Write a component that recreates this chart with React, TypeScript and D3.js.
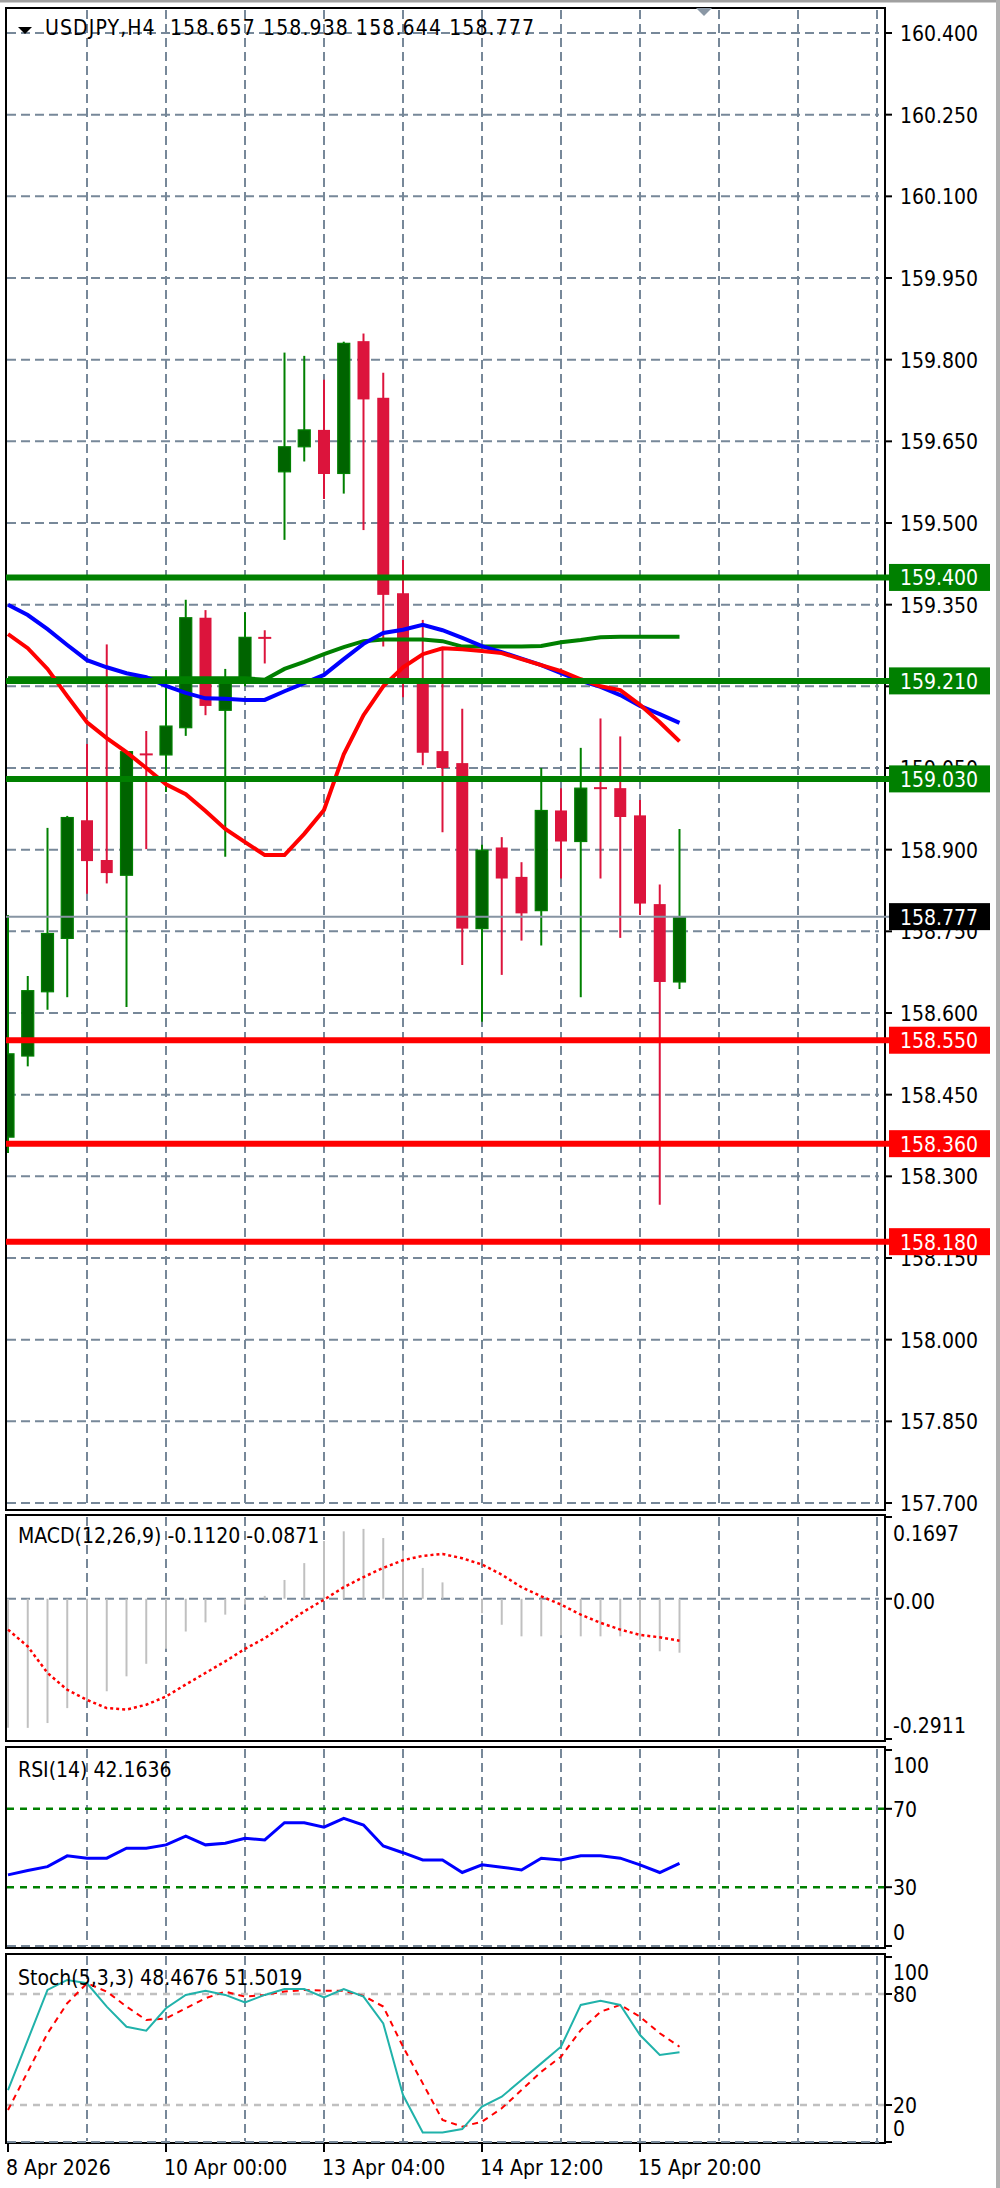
import React from 'react';
import * as d3 from 'd3';

// ---------------- data ----------------
const symbolName = 'USDJPY,H4';
const opens = [158.372, 158.521, 158.639, 158.737, 158.954, 158.881, 158.853, 159.075, 159.074, 159.124, 159.326, 159.156, 159.212, 159.289, 159.594, 159.640, 159.671, 159.591, 159.834, 159.730, 159.371, 159.205, 159.081, 159.059, 158.755, 158.904, 158.850, 158.788, 158.972, 158.915, 159.013, 159.013, 158.963, 158.800, 158.657];
const highs = [158.780, 158.668, 158.940, 158.962, 159.094, 159.277, 159.080, 159.118, 159.230, 159.359, 159.340, 159.232, 159.336, 159.303, 159.813, 159.807, 159.763, 159.833, 159.848, 159.776, 159.432, 159.322, 159.270, 159.159, 158.909, 158.923, 158.877, 159.050, 159.013, 159.087, 159.141, 159.108, 158.991, 158.836, 158.938];
const lows = [158.343, 158.502, 158.606, 158.629, 158.819, 158.838, 158.611, 158.901, 159.006, 159.109, 159.147, 158.887, 159.200, 159.242, 159.469, 159.613, 159.544, 159.554, 159.487, 159.273, 159.180, 159.055, 158.932, 158.688, 158.584, 158.670, 158.733, 158.724, 158.847, 158.629, 158.847, 158.738, 158.780, 158.248, 158.644];
const closes = [158.525, 158.641, 158.746, 158.959, 158.879, 158.857, 159.080, 159.072, 159.127, 159.326, 159.164, 159.210, 159.290, 159.287, 159.640, 159.671, 159.590, 159.830, 159.727, 159.368, 159.205, 159.078, 159.050, 158.755, 158.899, 158.847, 158.783, 158.972, 158.915, 159.013, 159.011, 158.960, 158.801, 158.657, 158.777];

const maBlue = [159.350, 159.331, 159.305, 159.276, 159.248, 159.235, 159.224, 159.217, 159.201, 159.188, 159.178, 159.177, 159.175, 159.175, 159.191, 159.206, 159.221, 159.250, 159.278, 159.298, 159.304, 159.313, 159.303, 159.289, 159.274, 159.263, 159.251, 159.239, 159.224, 159.210, 159.199, 159.184, 159.164, 159.149, 159.133];
const maRed = [159.296, 159.270, 159.232, 159.182, 159.134, 159.105, 159.079, 159.050, 159.020, 159.002, 158.971, 158.938, 158.914, 158.890, 158.890, 158.929, 158.973, 159.075, 159.147, 159.200, 159.235, 159.259, 159.270, 159.268, 159.265, 159.261, 159.250, 159.239, 159.228, 159.213, 159.200, 159.193, 159.166, 159.134, 159.099];
const maGreen = [159.215, 159.215, 159.215, 159.215, 159.215, 159.215, 159.215, 159.215, 159.215, 159.215, 159.215, 159.215, 159.215, 159.212, 159.232, 159.245, 159.259, 159.272, 159.283, 159.286, 159.286, 159.286, 159.283, 159.273, 159.273, 159.273, 159.273, 159.274, 159.281, 159.285, 159.290, 159.291, 159.291, 159.291, 159.291];

const macdHist = [-0.268, -0.268, -0.258, -0.227, -0.213, -0.192, -0.161, -0.135, -0.104, -0.068, -0.049, -0.033, -0.012, 0.006, 0.039, 0.074, 0.120, 0.140, 0.145, 0.126, 0.100, 0.064, 0.034, 0.002, -0.030, -0.054, -0.078, -0.078, -0.076, -0.078, -0.078, -0.078, -0.085, -0.109, -0.1120];
const macdSignal = [-0.064, -0.099, -0.154, -0.189, -0.210, -0.227, -0.230, -0.220, -0.203, -0.178, -0.154, -0.130, -0.104, -0.082, -0.054, -0.026, -0.002, 0.024, 0.045, 0.064, 0.080, 0.089, 0.093, 0.084, 0.071, 0.050, 0.024, 0.005, -0.012, -0.033, -0.050, -0.064, -0.075, -0.080, -0.0871];

const rsiValues = [36.3, 38.5, 40.5, 46.0, 44.8, 44.8, 49.9, 49.9, 51.6, 56.1, 51.6, 52.4, 55.0, 54.1, 62.9, 62.9, 60.6, 65.1, 61.7, 51.0, 47.6, 43.9, 43.9, 37.5, 41.4, 40.2, 38.8, 44.8, 43.9, 46.0, 46.0, 44.8, 41.4, 37.5, 42.1636];

const stochMain = [28.1, 55.1, 82.2, 87.6, 85.8, 73.2, 62.3, 60.2, 72.3, 79.5, 81.8, 79.5, 75.5, 79.5, 82.7, 82.7, 78.2, 82.7, 78.6, 64.1, 25.4, 5.2, 5.2, 7.0, 19.1, 24.5, 33.5, 42.5, 51.5, 74.1, 76.4, 74.1, 57.8, 47.0, 48.4676];
const stochSignal = [17.3, 38.0, 58.7, 75.0, 85.8, 81.3, 73.2, 65.9, 66.8, 72.3, 77.7, 81.3, 78.6, 79.5, 81.3, 82.2, 81.8, 81.8, 79.0, 73.2, 51.5, 31.7, 11.9, 8.3, 11.0, 18.2, 28.1, 38.0, 46.1, 60.5, 70.4, 74.1, 67.7, 58.8, 51.5019];

const priceTicks = [160.4, 160.25, 160.1, 159.95, 159.8, 159.65, 159.5, 159.35, 159.2, 159.05, 158.9, 158.75, 158.6, 158.45, 158.3, 158.15, 158.0, 157.85, 157.7];
const resistanceLevels = [159.4, 159.21, 159.03];
const supportLevels = [158.55, 158.36, 158.18];
const lastPrice = 158.777;

const macdAxisValues = [0.1697, 0, -0.2911];
const macdAxisLabels = ['0.1697', '0.00', '-0.2911'];
const rsiAxisValues = [100, 70, 30, 0];
const rsiLevels = [70, 30];
const stochAxisValues = [100, 80, 20, 0];
const stochLevels = [80, 20];

const gridIndex = [4, 8, 12, 16, 20, 24, 28, 32, 36, 40, 44];
const dateTickIndex = [0, 8, 16, 24, 32];
const dateTickLabels = ['8 Apr 2026', '10 Apr 00:00', '13 Apr 04:00', '14 Apr 12:00', '15 Apr 20:00'];

// ---------------- style ----------------
const FONT = "'DejaVu Sans Condensed', 'Liberation Sans', Arial, sans-serif";
const FS = 21;
const GRID = '#778899';
const L = 6, R = 885;
const main = { top: 8, bottom: 1510 };
const macdP = { top: 1515, bottom: 1741 };
const rsiP = { top: 1747, bottom: 1948 };
const stochP = { top: 1954, bottom: 2143 };

const locale = d3.formatLocale({ decimal: '.', thousands: ',', grouping: [3], currency: ['', ''], minus: '-' });

export default function App() {
  const x = d3.scaleLinear().domain([0, 44]).range([8, 877]);
  const yMain = d3.scaleLinear().domain([157.7, 160.4]).range([1503, 33]);
  const yMacd = d3.scaleLinear().domain([-0.2911, 0.1697]).range([1739, 1517]);
  const yRsi = d3.scaleLinear().domain([0, 100]).range([1946, 1750]);
  const yStoch = d3.scaleLinear().domain([0, 100]).range([2142, 1957]);
  const f3 = locale.format('.3f');
  const f4 = locale.format('.4f');

  const mkLine = (vals: number[], sc: (v: number) => number) =>
    d3.line<number>().x((_, i) => x(i)).y((d) => sc(d))(vals) || '';

  const panels = [main, macdP, rsiP, stochP];
  const last = closes.length - 1;
  const header = `${symbolName}  ${f3(opens[last])} ${f3(highs[last])} ${f3(lows[last])} ${f3(closes[last])}`;

  const levelBox = (v: number, color: string, key: string) => {
    const yy = yMain(v);
    return (
      <g key={key}>
        <line x1={L} x2={889} y1={yy} y2={yy} stroke={color} strokeWidth={6} />
        <rect x={889} y={yy - 13.5} width={101} height={27} fill={color} />
        <text x={900} y={yy + 8} fill="#fff" fontSize={FS}>{f3(v)}</text>
      </g>
    );
  };

  return (
    <svg width={1000} height={2188} style={{ position: 'absolute', left: 0, top: 0, background: '#fff', display: 'block' }} fontFamily={FONT}>
      <defs>
        <clipPath id="clipMain"><rect x={L + 1} y={main.top + 1} width={R - L - 2} height={main.bottom - main.top - 2} /></clipPath>
      </defs>
      <rect x={0} y={0} width={1000} height={2188} fill="#fff" />
      <rect x={0} y={0} width={1000} height={2.5} fill="#a0a0a0" />
      <rect x={996} y={0} width={4} height={2188} fill="#b0b0b0" />

      {/* panel frames */}
      {panels.map((p, k) => (
        <rect key={'pf' + k} x={L} y={p.top} width={R - L} height={p.bottom - p.top} fill="#fff" stroke="#000" strokeWidth={2} />
      ))}

      {/* vertical grid */}
      {panels.map((p, k) => (
        <g key={'vg' + k}>
          {gridIndex.map((gi) => (
            <line key={gi} x1={x(gi)} x2={x(gi)} y1={p.top + 2} y2={p.bottom - 2} stroke={GRID} strokeWidth={2} strokeDasharray="9,5" />
          ))}
        </g>
      ))}

      {/* main horizontal grid */}
      {priceTicks.map((t) => (
        <line key={'hg' + t} x1={L + 1} x2={879} y1={yMain(t)} y2={yMain(t)} stroke={GRID} strokeWidth={2} strokeDasharray="9,5" />
      ))}

      {/* main price axis */}
      {priceTicks.map((t) => (
        <g key={'pt' + t}>
          <line x1={R} x2={892} y1={yMain(t)} y2={yMain(t)} stroke="#000" strokeWidth={2} />
          <text x={900} y={yMain(t) + 8} fontSize={FS} fill="#000">{f3(t)}</text>
        </g>
      ))}

      <g clipPath="url(#clipMain)">
        {/* candles */}
        {closes.map((c, i) => {
          const o = opens[i];
          const bull = c >= o;
          const col = bull ? '#008000' : '#DC143C';
          const fill = bull ? '#006400' : '#DC143C';
          const yt = yMain(Math.max(o, c));
          const yb = yMain(Math.min(o, c));
          const cx = x(i);
          return (
            <g key={'c' + i}>
              <line x1={cx} x2={cx} y1={yMain(highs[i])} y2={yMain(lows[i])} stroke={col} strokeWidth={2} />
              {yb - yt < 2 ? (
                <line x1={cx - 6.5} x2={cx + 6.5} y1={yt} y2={yt} stroke={col} strokeWidth={2} />
              ) : (
                <rect x={cx - 6} y={yt} width={12} height={yb - yt} fill={fill} stroke={col} strokeWidth={bull ? 1.2 : 0} />
              )}
            </g>
          );
        })}
        {/* moving averages */}
        <path d={mkLine(maGreen, yMain)} fill="none" stroke="#008000" strokeWidth={4} />
        <path d={mkLine(maBlue, yMain)} fill="none" stroke="#0000ff" strokeWidth={4} />
        <path d={mkLine(maRed, yMain)} fill="none" stroke="#ff0000" strokeWidth={4} />
      </g>

      {/* current price line */}
      <line x1={L} x2={889} y1={yMain(lastPrice)} y2={yMain(lastPrice)} stroke="#8795a3" strokeWidth={2} />
      <rect x={889} y={yMain(lastPrice) - 13.5} width={101} height={27} fill="#000" />
      <text x={900} y={yMain(lastPrice) + 8} fill="#fff" fontSize={FS}>{f3(lastPrice)}</text>

      {/* levels */}
      {resistanceLevels.map((v, k) => levelBox(v, '#008000', 'r' + k))}
      {supportLevels.map((v, k) => levelBox(v, '#ff0000', 's' + k))}

      {/* header */}
      <path d="M18,27 L32,27 L25,34 Z" fill="#000" />
      <text x={45} y={35} fontSize={FS} fill="#000" textLength={489} lengthAdjust="spacing" style={{ whiteSpace: 'pre' }}>{header}</text>
      <path d="M696,8 L712,8 L704,16 Z" fill="#8a97a5" />

      {/* MACD */}
      <line x1={L + 1} x2={879} y1={yMacd(0)} y2={yMacd(0)} stroke={GRID} strokeWidth={2} strokeDasharray="9,5" />
      {macdHist.map((v, i) => (
        <line key={'mh' + i} x1={x(i)} x2={x(i)} y1={yMacd(0)} y2={yMacd(v)} stroke="#c0c0c0" strokeWidth={2} />
      ))}
      <path d={mkLine(macdSignal, yMacd)} fill="none" stroke="#ff0000" strokeWidth={2.5} strokeDasharray="3,3" />
      <text x={18} y={1543} fontSize={FS} fill="#000">{`MACD(12,26,9) ${f4(macdHist[last])} ${f4(macdSignal[last])}`}</text>
      {macdAxisValues.map((v, k) => (
        <line key={'mt' + k} x1={R} x2={892} y1={yMacd(v)} y2={yMacd(v)} stroke="#000" strokeWidth={2} />
      ))}
      <text x={893} y={1541} fontSize={FS} fill="#000">{macdAxisLabels[0]}</text>
      <text x={893} y={1609} fontSize={FS} fill="#000">{macdAxisLabels[1]}</text>
      <text x={893} y={1733} fontSize={FS} fill="#000">{macdAxisLabels[2]}</text>

      {/* RSI */}
      <line x1={L + 1} x2={879} y1={yRsi(0)} y2={yRsi(0)} stroke={GRID} strokeWidth={2} strokeDasharray="9,5" />
      {rsiLevels.map((v) => (
        <line key={'rl' + v} x1={L + 1} x2={R - 1} y1={yRsi(v)} y2={yRsi(v)} stroke="#008000" strokeWidth={2.5} strokeDasharray="7,6" />
      ))}
      <path d={mkLine(rsiValues, yRsi)} fill="none" stroke="#0000ff" strokeWidth={3} />
      <text x={18} y={1777} fontSize={FS} fill="#000">{`RSI(14) ${f4(rsiValues[last])}`}</text>
      {rsiAxisValues.map((v) => (
        <g key={'ra' + v}>
          <line x1={R} x2={892} y1={yRsi(v)} y2={yRsi(v)} stroke="#000" strokeWidth={2} />
          <text x={893} y={v === 100 ? 1773 : v === 0 ? 1940 : yRsi(v) + 8} fontSize={FS} fill="#000">{String(v)}</text>
        </g>
      ))}

      {/* Stochastic */}
      <line x1={L + 1} x2={879} y1={yStoch(0)} y2={yStoch(0)} stroke={GRID} strokeWidth={2} strokeDasharray="9,5" />
      {stochLevels.map((v) => (
        <line key={'sl' + v} x1={L + 1} x2={R - 1} y1={yStoch(v)} y2={yStoch(v)} stroke="#c0c0c0" strokeWidth={2.5} strokeDasharray="7,6" />
      ))}
      <path d={mkLine(stochSignal, yStoch)} fill="none" stroke="#ff0000" strokeWidth={2} strokeDasharray="6,5" />
      <path d={mkLine(stochMain, yStoch)} fill="none" stroke="#20b2aa" strokeWidth={2} />
      <text x={18} y={1985} fontSize={FS} fill="#000">{`Stoch(5,3,3) ${f4(stochMain[last])} ${f4(stochSignal[last])}`}</text>
      {stochAxisValues.map((v) => (
        <g key={'sa' + v}>
          <line x1={R} x2={892} y1={yStoch(v)} y2={yStoch(v)} stroke="#000" strokeWidth={2} />
          <text x={893} y={v === 100 ? 1980 : v === 0 ? 2136 : yStoch(v) + 8} fontSize={FS} fill="#000">{String(v)}</text>
        </g>
      ))}

      {/* time axis */}
      {dateTickIndex.map((di, k) => (
        <g key={'dt' + k}>
          <line x1={x(di)} x2={x(di)} y1={stochP.bottom} y2={2152} stroke="#000" strokeWidth={2} />
          <text x={x(di) - 2} y={2175} fontSize={FS} fill="#000">{dateTickLabels[k]}</text>
        </g>
      ))}
    </svg>
  );
}
